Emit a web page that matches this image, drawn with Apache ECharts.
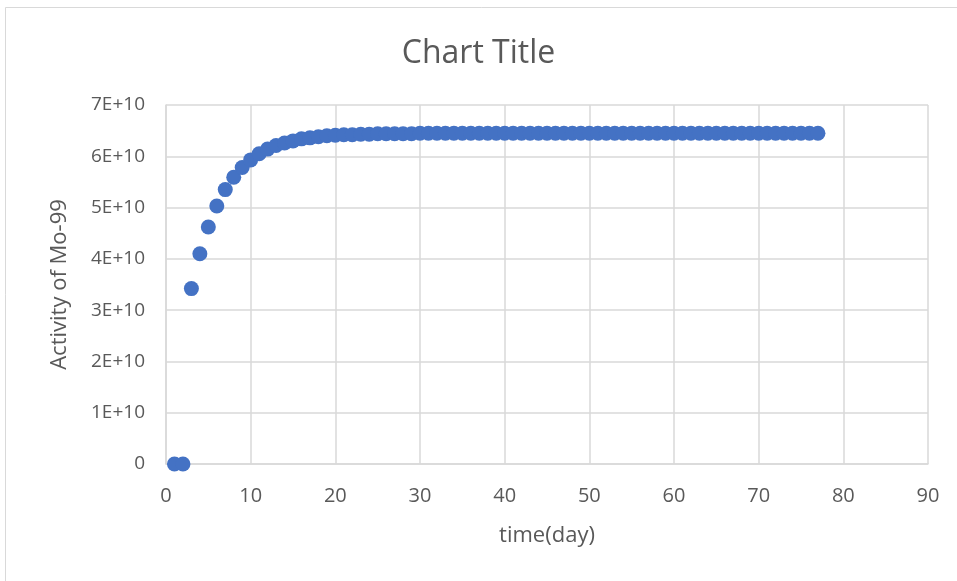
<!DOCTYPE html>
<html>
<head>
<meta charset="utf-8">
<script src="https://cdn.jsdelivr.net/npm/echarts@6/dist/echarts.min.js"></script>
<style>
  html, body { margin: 0; padding: 0; background: #fff; }
  #chart { width: 957px; height: 581px; }
</style>
</head>
<body>
<div id="chart"></div>
<script>
// Mo-99 activity build-up over time (days)
const days = [];
for (let d = 1; d <= 77; d++) days.push(d);

const activity = [
  0, 0, 3.42e10, 4.10e10, 4.62e10, 5.03e10, 5.35e10, 5.59e10, 5.78e10, 5.93e10,
  6.05e10, 6.14e10, 6.21e10, 6.26e10, 6.30e10, 6.34e10, 6.36e10, 6.38e10, 6.40e10, 6.41e10,
  6.42e10, 6.42e10, 6.43e10, 6.43e10, 6.44e10, 6.44e10, 6.44e10, 6.44e10, 6.44e10, 6.45e10,
  6.45e10, 6.45e10, 6.45e10, 6.45e10, 6.45e10, 6.45e10, 6.45e10, 6.45e10, 6.45e10, 6.45e10,
  6.45e10, 6.45e10, 6.45e10, 6.45e10, 6.45e10, 6.45e10, 6.45e10, 6.45e10, 6.45e10, 6.45e10,
  6.45e10, 6.45e10, 6.45e10, 6.45e10, 6.45e10, 6.45e10, 6.45e10, 6.45e10, 6.45e10, 6.45e10,
  6.45e10, 6.45e10, 6.45e10, 6.45e10, 6.45e10, 6.45e10, 6.45e10, 6.45e10, 6.45e10, 6.45e10,
  6.45e10, 6.45e10, 6.45e10, 6.45e10, 6.45e10, 6.45e10, 6.45e10
];

const chartTitle = 'Chart Title';
const xTitle = 'time(day)';
const yTitle = 'Activity of Mo-99';

const points = days.map((d, i) => [d, activity[i]]);

const textColor = '#595959';
const gridColor = '#D9D9D9';
const fontFamily = '"Open Sans", "Liberation Sans", sans-serif';

const chart = echarts.init(document.getElementById('chart'), null, { renderer: 'canvas' });
chart.setOption({
  backgroundColor: '#fff',
  animation: false,
  graphic: [{
    type: 'rect',
    shape: { x: 5.5, y: 7.5, width: 960, height: 600 },
    style: { fill: 'none', stroke: '#D9D9D9', lineWidth: 1 },
    z: -1
  }],
  title: {
    text: chartTitle,
    left: 'center',
    top: 33,
    textStyle: { color: textColor, fontSize: 32, fontWeight: 'normal', fontFamily }
  },
  grid: { left: 166, right: 29, top: 105, bottom: 117 },
  xAxis: {
    type: 'value',
    min: 0, max: 90, interval: 10,
    name: xTitle,
    nameLocation: 'middle',
    nameGap: 61,
    nameTextStyle: { color: textColor, fontSize: 22, fontFamily },
    axisLine: { show: true, lineStyle: { color: gridColor, width: 1.5 } },
    axisTick: { show: false },
    axisLabel: { color: textColor, fontSize: 20, margin: 22, fontFamily },
    splitLine: { show: true, lineStyle: { color: gridColor, width: 1.5 } }
  },
  yAxis: {
    type: 'value',
    min: 0, max: 7e10, interval: 1e10,
    name: yTitle,
    nameLocation: 'middle',
    nameGap: 95,
    nameRotate: 90,
    nameTextStyle: { color: textColor, fontSize: 22, fontFamily },
    axisLine: { show: true, lineStyle: { color: gridColor, width: 1.5 } },
    axisTick: { show: false },
    axisLabel: {
      color: textColor, fontSize: 19, margin: 21, fontFamily,
      formatter: v => v === 0 ? '0' : (v / 1e10) + 'E+10'
    },
    splitLine: { show: true, lineStyle: { color: gridColor, width: 1.5 } }
  },
  series: [{
    type: 'scatter',
    data: points,
    symbol: 'circle',
    symbolSize: 15,
    itemStyle: { color: '#4472C4', opacity: 1 },
    clip: false
  }]
});
</script>
</body>
</html>
